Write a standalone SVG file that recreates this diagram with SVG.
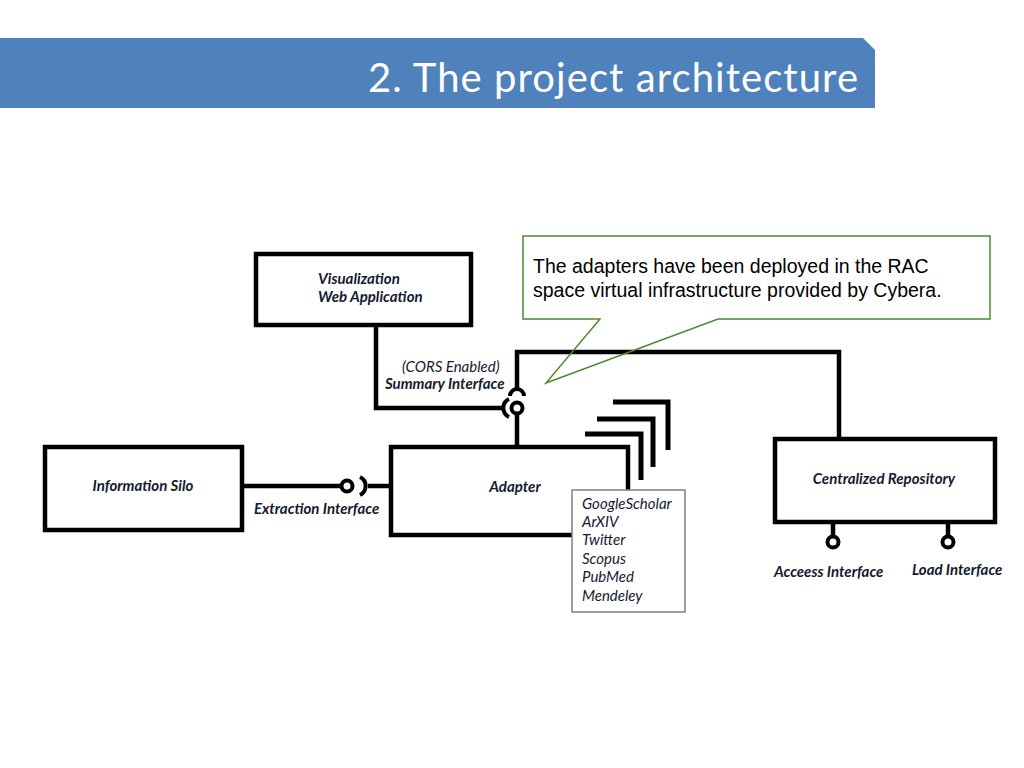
<svg xmlns="http://www.w3.org/2000/svg" width="1024" height="768" viewBox="0 0 1024 768">
<style>
.box{fill:#fff;stroke:#000;stroke-width:4.5}
.ln{fill:none;stroke:#000;stroke-width:4.5}
.sk{fill:none;stroke:#000;stroke-width:4}
.br{fill:none;stroke:#000;stroke-width:5}
.ball{fill:#fff;stroke:#000;stroke-width:4}
.lbl{font-family:Lato,"Liberation Sans",sans-serif;font-weight:bold;font-style:italic;font-size:15px;fill:#141a2e}
.it{font-family:Lato,"Liberation Sans",sans-serif;font-style:italic;font-size:15px;fill:#141a2e}
.call{font-family:"Liberation Sans",Arial,sans-serif;font-size:19.5px;fill:#000}
</style>
<rect width="1024" height="768" fill="#fff"/>
<g id="header">
<path d="M0,38 H863 L875,50 V108 H0 Z" fill="#4f81bd"/>
<text x="858" y="92" text-anchor="end" font-family="Lato,'Open Sans',sans-serif" font-size="40" fill="#fff" textLength="490">2. The project architecture</text>
</g>
<g id="connectors">
<path class="ln" d="M376,327 V408 H503"/>
<path class="ln" d="M839,437 V352 H517 V389"/>
<path class="sk" d="M510,396 A7,7 0 0 1 524,396"/>
<path class="sk" d="M509,399 A10,10 0 0 0 509,417"/>
<path class="ln" d="M517,414 V445"/>
<path class="ln" d="M244,486 H341"/>
<path class="sk" d="M360,477 A10,10 0 0 1 360,495"/>
<path class="ln" d="M368,486 H391"/>
<path class="ln" d="M833,524 V536"/>
<path class="ln" d="M948,524 V536"/>
<circle class="ball" cx="517" cy="408" r="5.5"/>
<circle class="ball" cx="347" cy="486" r="5.5"/>
<circle class="ball" cx="833" cy="542" r="5.5"/>
<circle class="ball" cx="948" cy="542" r="5.5"/>
</g>
<g id="visualization">
<rect class="box" x="256" y="254" width="215" height="71"/>
<text class="lbl" x="318" y="284">Visualization</text>
<text class="lbl" x="318" y="302">Web Application</text>
</g>
<g id="summary-label">
<text class="it" x="402" y="372">(CORS Enabled)</text>
<text class="lbl" x="385" y="389">Summary Interface</text>
</g>
<g id="information-silo">
<rect class="box" x="45" y="447" width="197" height="83"/>
<text class="lbl" x="143" y="491" text-anchor="middle">Information Silo</text>
</g>
<g id="extraction-label">
<text class="lbl" x="254" y="514">Extraction Interface</text>
</g>
<g id="adapter">
<rect class="box" x="391" y="447" width="237" height="88"/>
<path class="br" d="M585,434 H641 V480"/>
<path class="br" d="M597,419 H653 V467"/>
<path class="br" d="M613,402 H668 V450"/>
<text class="lbl" x="515" y="492" text-anchor="middle">Adapter</text>
</g>
<g id="sources">
<rect x="572" y="490" width="113" height="122" fill="#fff" stroke="#7f7f7f" stroke-width="1.5"/>
<text class="it" x="582" y="509">GoogleScholar</text>
<text class="it" x="582" y="527">ArXIV</text>
<text class="it" x="582" y="545">Twitter</text>
<text class="it" x="582" y="564">Scopus</text>
<text class="it" x="582" y="582">PubMed</text>
<text class="it" x="582" y="601">Mendeley</text>
</g>
<g id="centralized-repository">
<rect class="box" x="775" y="439" width="220" height="83"/>
<text class="lbl" x="884" y="484" text-anchor="middle">Centralized Repository</text>
</g>
<g id="access-label">
<text class="lbl" x="774" y="577">Acceess Interface</text>
</g>
<g id="load-label">
<text class="lbl" x="912" y="575">Load Interface</text>
</g>
<g id="callout">
<rect x="523" y="236" width="467" height="83" fill="#fff"/>
<path d="M523,236 H990 V319 H718 L546,383 L600,319 H523 Z" fill="none" stroke="#4e8a2e" stroke-width="1.5"/>
<text class="call" x="533" y="273">The adapters have been deployed in the RAC</text>
<text class="call" x="533" y="297">space virtual infrastructure provided by Cybera.</text>
</g>
</svg>
